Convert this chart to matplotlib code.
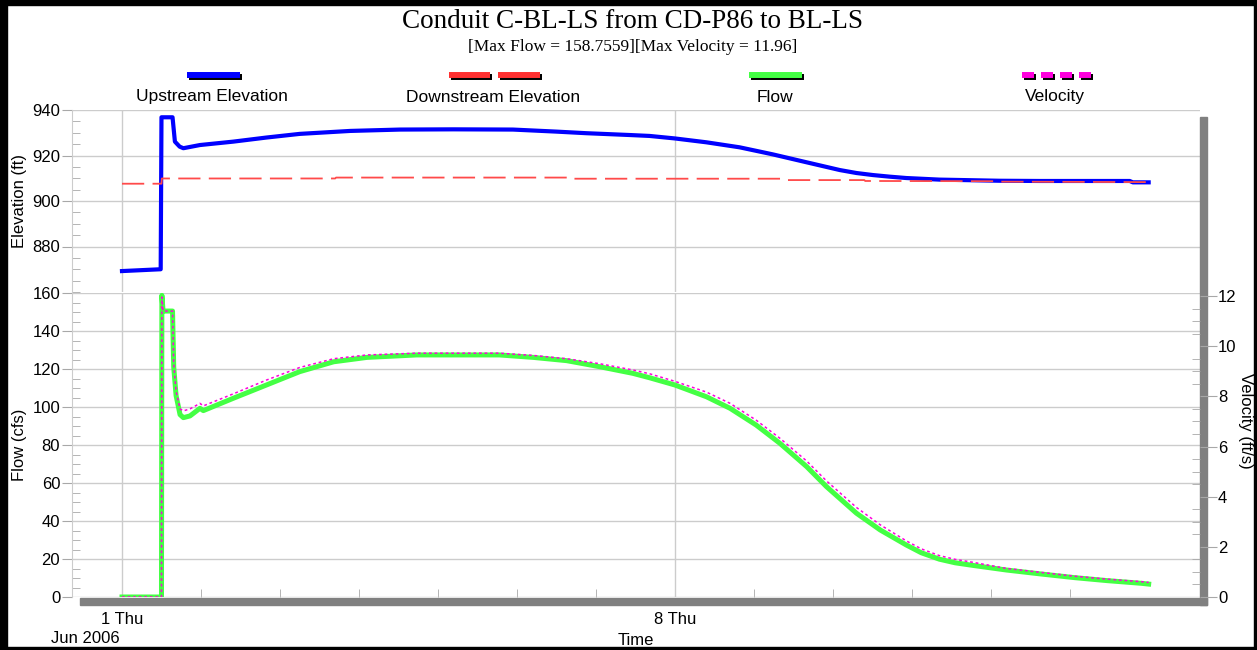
import matplotlib
matplotlib.use('Agg')
import matplotlib.pyplot as plt
from matplotlib.ticker import MultipleLocator, FixedLocator
from matplotlib.patches import Rectangle

plt.rcParams['font.family'] = ['Liberation Sans', 'DejaVu Sans']
plt.rcParams['lines.scale_dashes'] = False

# time in days after 1 Jun 2006 00:00
up_t = [0.0, 0.49, 0.50, 0.64, 0.67, 0.73, 0.777, 0.987, 1.41, 1.83, 2.25, 2.89,
        3.52, 4.20, 4.95, 5.50, 5.88, 6.43, 6.68, 7.0, 7.40, 7.82, 8.24, 8.67,
        9.09, 9.30, 9.51, 9.72, 9.93, 10.35, 11.11, 11.62, 12.76, 12.80, 13.0]
up_elev = [869.2, 870.0, 936.8, 936.8, 926.1, 923.9, 923.2, 924.6, 926.1, 927.9,
           929.5, 930.8, 931.4, 931.5, 931.4, 930.5, 929.8, 929.0, 928.6, 927.5,
           925.8, 923.6, 920.5, 917.0, 913.6, 912.3, 911.4, 910.7, 910.1, 909.4,
           908.9, 908.8, 908.8, 908.2, 908.2]

dn_t = [0.0, 0.50, 0.505, 2.70, 2.71, 5.67, 5.68, 8.37, 8.40, 9.40, 9.41, 11.10,
        11.11, 13.0]
dn_elev = [907.6, 907.6, 909.9, 909.9, 910.3, 910.3, 909.8, 909.8, 909.2, 909.2,
           908.8, 908.7, 908.5, 908.3]

q_t = [0.0, 0.500, 0.505, 0.52, 0.64, 0.655, 0.685, 0.735, 0.777, 0.861, 0.987,
       1.03, 1.41, 1.83, 2.25, 2.68, 3.10, 3.73, 4.78, 5.21, 5.63, 6.05, 6.47,
       6.68, 7.0, 7.40, 7.70, 8.03, 8.33, 8.67, 8.92, 9.30, 9.60, 9.93, 10.12,
       10.35, 10.55, 10.78, 11.20, 11.64, 12.06, 12.48, 12.91, 13.0]
flow = [0.0, 0.0, 158.8, 150.5, 150.5, 121.0, 106.0, 96.0, 94.4, 95.3, 99.3,
        98.1, 104.6, 111.6, 118.6, 123.8, 126.1, 127.4, 127.4, 126.1, 124.4,
        121.2, 117.7, 115.4, 111.6, 105.4, 99.3, 90.5, 80.9, 68.6, 58.1, 44.1,
        35.3, 27.4, 23.3, 19.9, 18.0, 16.6, 14.2, 12.1, 10.2, 8.6, 7.2, 6.8]
velocity = [0.0, 0.0, 11.96, 11.40, 11.40, 9.3, 8.2, 7.5, 7.42, 7.5, 7.72,
            7.62, 8.1, 8.65, 9.15, 9.5, 9.65, 9.72, 9.72, 9.63, 9.5, 9.3, 9.05,
            8.9, 8.6, 8.17, 7.72, 7.05, 6.33, 5.42, 4.63, 3.57, 2.88, 2.24,
            1.92, 1.65, 1.50, 1.38, 1.14, 0.98, 0.83, 0.71, 0.61, 0.58]

x_ticks = [0, 7]
x_tick_labels = ['1 Thu', '8 Thu']
day_ticks = [1, 2, 3, 4, 5, 6, 8, 9, 10, 11, 12]

W, H = 1257, 650
GRID = '#cccccc'
TICK = '#a8a8a8'
WALL = '#808080'


def fx(px):
    return px / W


def fy(py):
    return 1 - py / H


fig = plt.figure(figsize=(W / 100, H / 100), dpi=100)

ax_top = fig.add_axes([fx(72), fy(292), fx(1200) - fx(72), fy(110) - fy(292)])
ax_bot = fig.add_axes([fx(72), fy(597), fx(1200) - fx(72), fy(293) - fy(597)])
ax_vel = ax_bot.twinx()

# elevation panel
ax_top.plot(up_t, up_elev, color='#0000ff', lw=3.0, zorder=3)
ax_top.plot(dn_t, dn_elev, color='#ff4a4a', lw=1.3, dashes=(16, 6), zorder=4)
ax_top.set_ylim(860, 940)
ax_top.set_yticks([880, 900, 920, 940])
ax_top.yaxis.set_minor_locator(MultipleLocator(5))
ax_top.set_ylabel('Elevation (ft)', fontsize=12, labelpad=4)

# flow / velocity panel
ax_bot.plot(q_t, flow, color='#44ff44', lw=3.6, zorder=3)
ax_vel.plot(q_t, velocity, color='#ff00dd', lw=1.1, dashes=(2, 2), zorder=4)
ax_bot.set_ylim(0, 160)
ax_bot.set_yticks(range(0, 161, 20))
ax_bot.yaxis.set_minor_locator(MultipleLocator(5))
ax_bot.set_ylabel('Flow (cfs)', fontsize=12, labelpad=4)
ax_vel.set_ylim(0, 12.12)
ax_vel.set_yticks(range(0, 13, 2))
ax_vel.yaxis.set_minor_locator(MultipleLocator(0.5))

for ax in (ax_top, ax_bot):
    ax.set_xlim(-0.633, 13.65)
    ax.set_xticks(x_ticks)
    ax.grid(True, which='major', color=GRID, lw=1.0)
    ax.set_axisbelow(True)
    ax.patch.set_alpha(0)
    for s in ('top', 'right', 'bottom'):
        ax.spines[s].set_visible(False)
    ax.spines['left'].set_color(GRID)
    ax.tick_params(axis='y', which='major', direction='out', length=7,
                   color=TICK, labelsize=12, pad=1.5)
    ax.tick_params(axis='y', which='minor', direction='in', length=6,
                   color=TICK)

ax_top.tick_params(axis='x', which='both', length=0, labelbottom=False)
ax_bot.set_xticklabels(x_tick_labels)
ax_bot.xaxis.set_minor_locator(FixedLocator(day_ticks))
ax_bot.tick_params(axis='x', which='major', length=0, labelsize=12, pad=11)
ax_bot.tick_params(axis='x', which='minor', direction='in', length=6,
                   color=TICK)
ax_bot.set_xlabel('Time', fontsize=12, labelpad=4)
ax_bot.text(-0.9, -0.135, 'Jun 2006', transform=ax_bot.get_xaxis_transform(),
            fontsize=12, ha='left', va='center')

for s in ('top', 'left', 'bottom', 'right'):
    ax_vel.spines[s].set_visible(False)
ax_vel.tick_params(axis='y', which='major', direction='out', length=12,
                   color=TICK, labelsize=12, pad=1)
ax_vel.tick_params(axis='y', which='minor', direction='in', length=6,
                   color=TICK)
ax_vel.set_zorder(ax_bot.get_zorder() + 1)
ax_vel.patch.set_visible(False)

fig.text(fx(1246), fy(421), 'Velocity (ft/s)', rotation=270, fontsize=12,
         ha='center', va='center')

# 3D walls of the chart
fig.patches.append(Rectangle((fx(1200), fy(605)), 7 / W, (605 - 117) / H,
                             transform=fig.transFigure, color=WALL, zorder=0))
fig.patches.append(Rectangle((fx(80), fy(605)), 1127 / W, 7 / H,
                             transform=fig.transFigure, color=WALL, zorder=0))
# black outer frame (thicker on the left and top)
for x0, y0, w, h in [(0, 650, 7, 650), (0, 5, W, 5), (W - 3, 650, 3, 650),
                     (0, 650, W, 3)]:
    fig.patches.append(Rectangle((fx(x0), fy(y0)), w / W, h / H,
                                 transform=fig.transFigure, color='black',
                                 zorder=10))

# titles
fig.text(fx(633), fy(22), 'Conduit C-BL-LS from CD-P86 to BL-LS',
         family='Liberation Serif', fontsize=19.5, ha='center', va='center')
fig.text(fx(633), fy(47), '[Max Flow = 158.7559][Max Velocity = 11.96]',
         family='Liberation Serif', fontsize=12.5, ha='center', va='center')

# legend: sample above, label below
leg = fig.add_axes([0, 0, 1, 1])
leg.set_xlim(0, W)
leg.set_ylim(H, 0)
leg.axis('off')
leg.patch.set_visible(False)

legend_items = [
    ('Upstream Elevation', '#0000ff', [(187, 240)], 212),
    ('Downstream Elevation', '#ff3030', [(449, 490), (498, 540)], 493),
    ('Flow', '#44ff44', [(749, 802)], 775),
    ('Velocity', '#ff00dd', [(1022, 1034), (1041, 1053), (1060, 1072),
                             (1079, 1091)], 1055),
]
for name, col, segs, cx in legend_items:
    for a, b in segs:
        leg.plot([a + 2, b + 2], [77, 77], color='black', lw=4.3,
                 solid_capstyle='butt')
        leg.plot([a, b], [75, 75], color=col, lw=4.3, solid_capstyle='butt')
    leg.text(cx, 97, name, fontsize=12.5, ha='center', va='center')

fig.savefig('out.png', dpi=100)
